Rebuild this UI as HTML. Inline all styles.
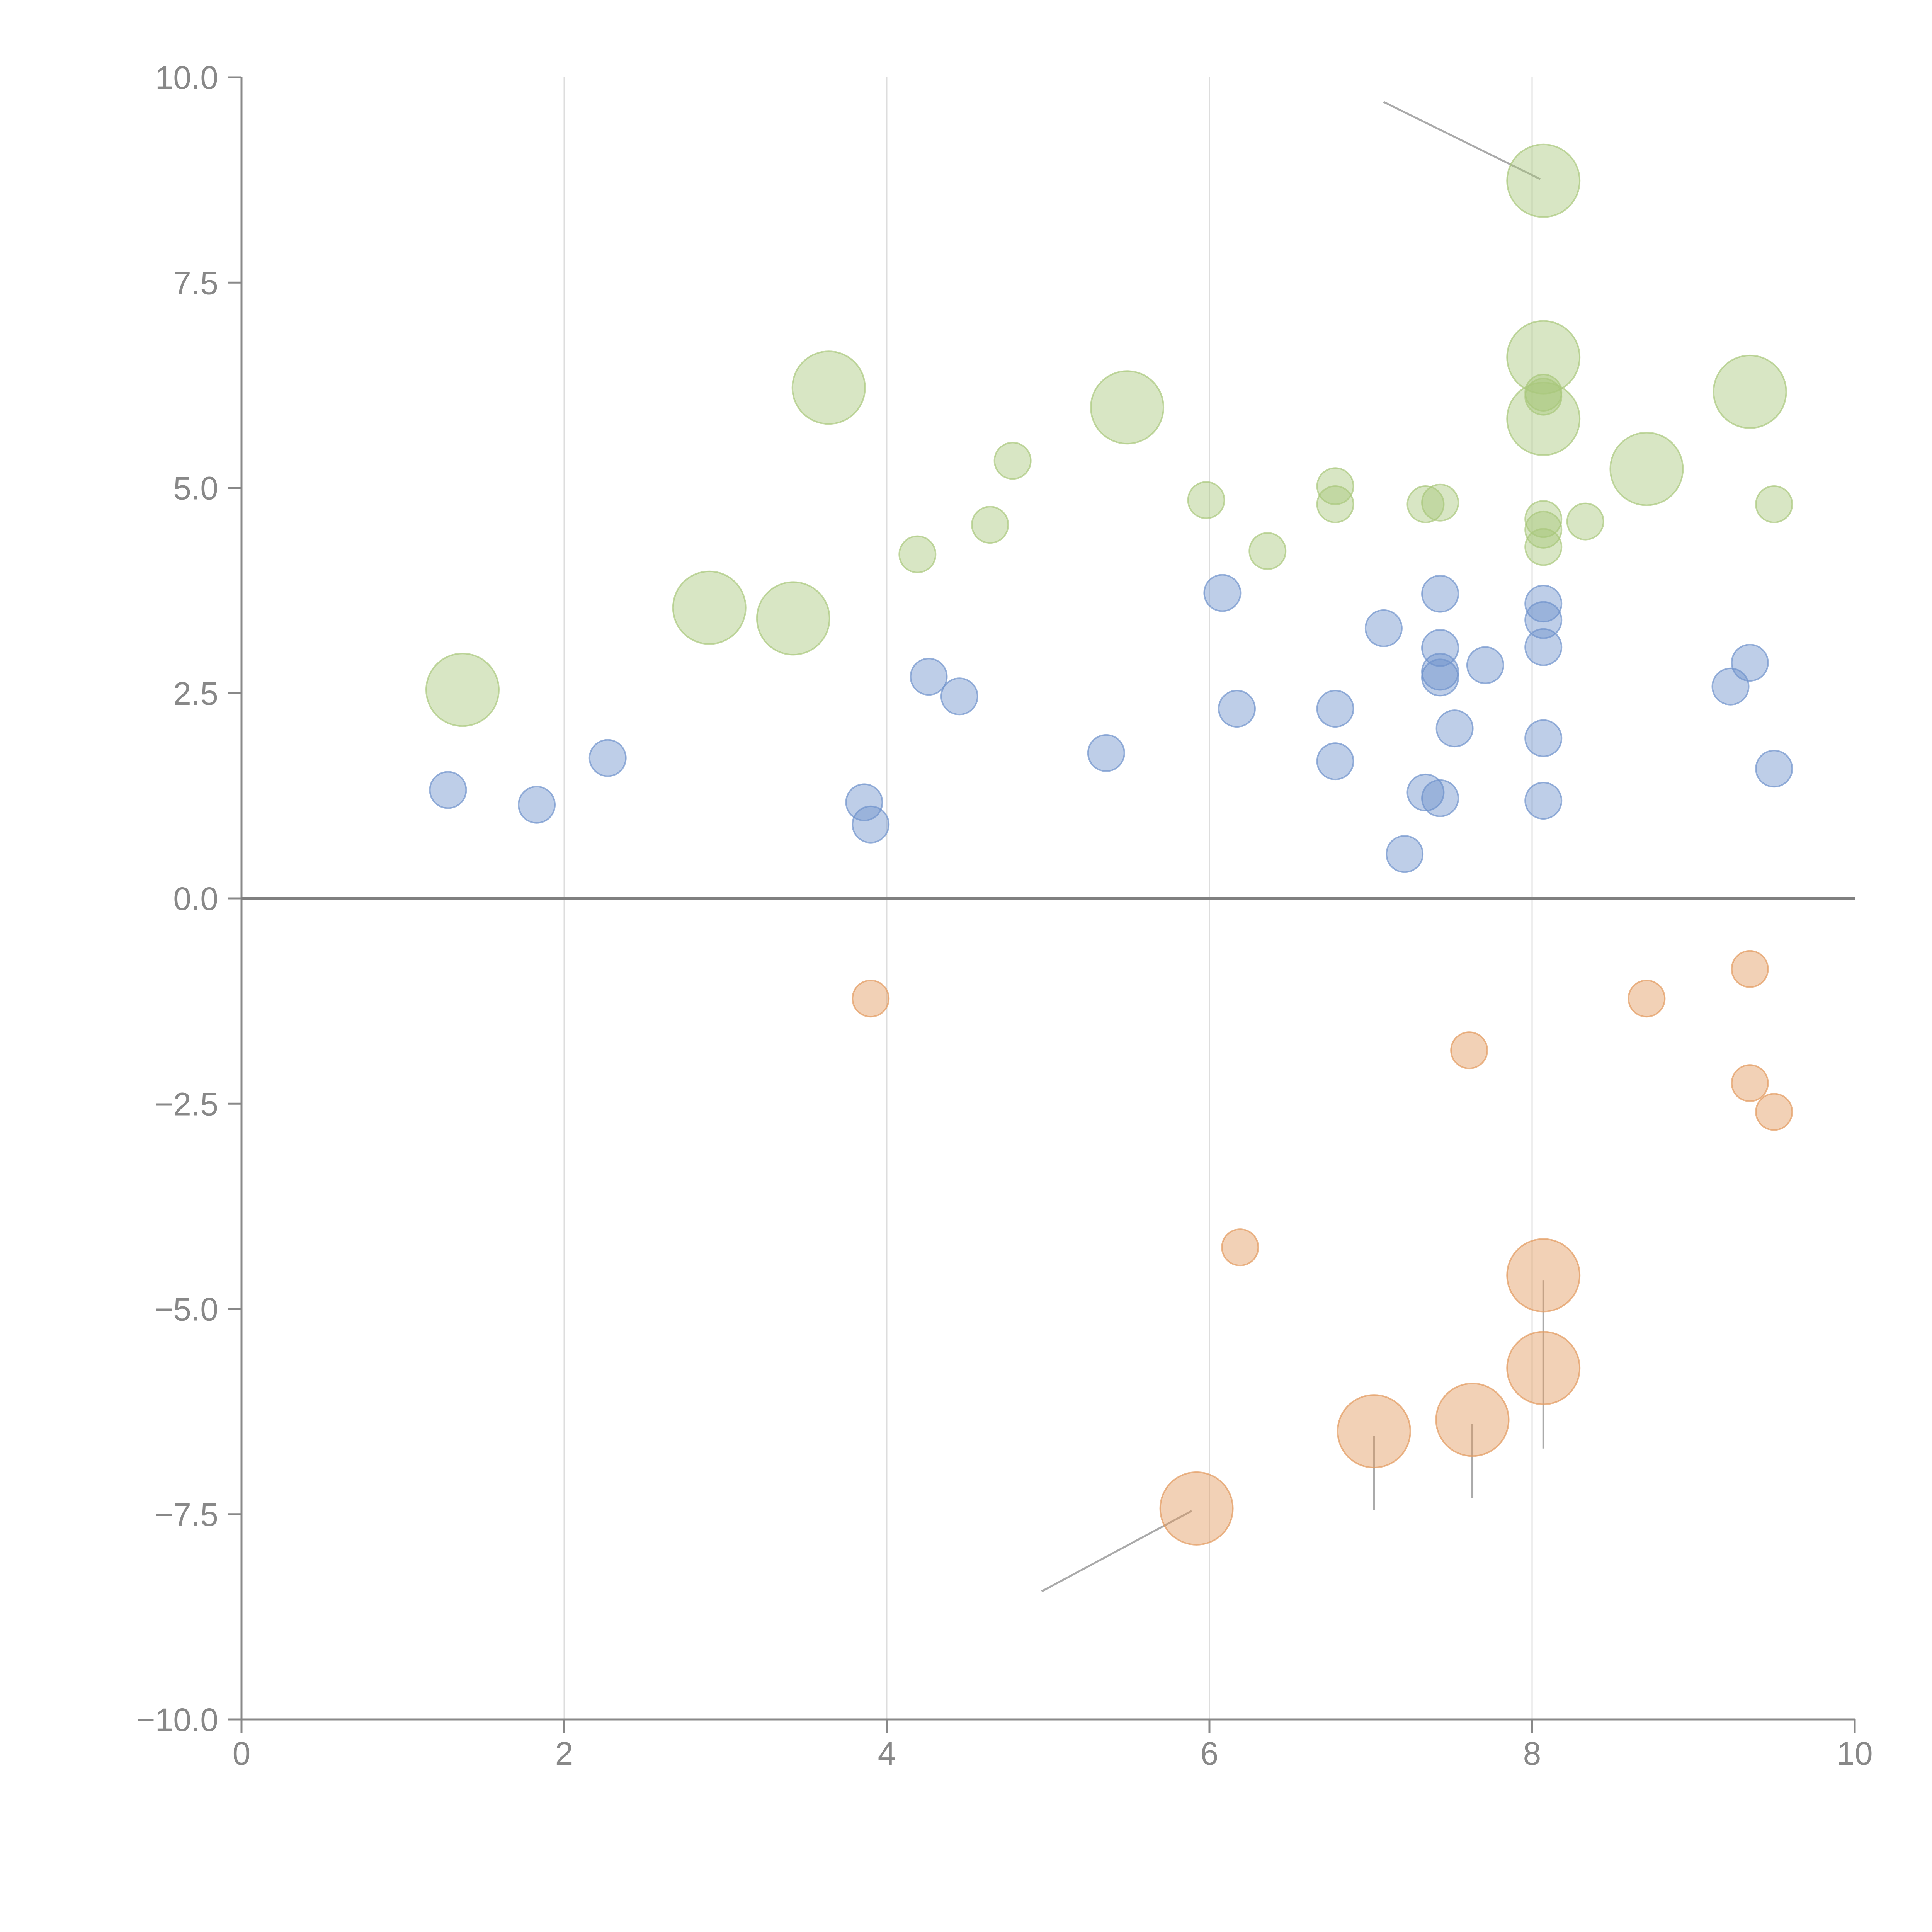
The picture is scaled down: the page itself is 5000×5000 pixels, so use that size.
<!DOCTYPE html>
<html><head><meta charset="utf-8"><style>html,body{margin:0;padding:0;background:#fff}svg{display:block}</style></head>
<body>
<svg id="chart" width="5000" height="5000" viewBox="0 0 5000 5000" xmlns="http://www.w3.org/2000/svg" font-family="Liberation Sans, sans-serif">
<rect width="5000" height="5000" fill="#fff"/>
<g id="grid"></g><g id="axes"></g><g id="leaders"></g><g id="marks"></g>
</svg>
<script>
const xTicks=[0,2,4,6,8,10];
const yTicks=[10,7.5,5,2.5,0,-2.5,-5,-7.5,-10];
const yTickLabels=["10.0","7.5","5.0","2.5","0.0","\u22122.5","\u22125.0","\u22127.5","\u221210.0"];
const blueX=[1.28,1.83,2.27,3.86,3.90,4.26,4.45,5.36,6.08,6.17,6.78,6.78,7.08,7.21,7.34,7.43,7.43,7.43,7.43,7.43,7.52,7.71,8.07,8.07,8.07,8.07,8.07,9.23,9.35,9.50];
const blueY=[1.32,1.14,1.71,1.17,0.90,2.70,2.46,1.77,3.72,2.31,2.31,1.67,3.29,0.54,1.29,3.71,3.05,2.76,2.69,1.22,2.07,2.84,3.59,3.39,3.06,1.95,1.19,2.58,2.87,1.58];
const greenX=[4.19,4.64,4.78,5.98,6.36,6.78,6.78,7.34,7.43,8.07,8.07,8.07,8.07,8.07,8.33,9.50,1.37,2.90,3.42,3.64,5.49,8.07,8.07,8.07,8.71,9.35];
const greenY=[4.19,4.55,5.33,4.85,4.23,5.02,4.80,4.80,4.82,6.16,6.11,4.62,4.49,4.28,4.59,4.80,2.54,3.54,3.41,6.22,5.98,8.74,6.59,5.84,5.23,6.17];
const greenS=[1,1,1,1,1,1,1,1,1,1,1,1,1,1,1,1,4,4,4,4,4,4,4,4,4,4];
const orangeX=[3.90,7.61,8.71,9.35,9.35,9.50,6.19,8.07,8.07,7.63,7.02,5.92];
const orangeY=[-1.22,-1.85,-1.22,-0.86,-2.25,-2.60,-4.25,-4.59,-5.72,-6.35,-6.49,-7.43];
const orangeS=[1,1,1,1,1,1,1,4,4,4,4,4];

const NS="http://www.w3.org/2000/svg";
const X=v=>625+v*417.5, Y=v=>2325-v*212.5;
function mk(p,tag,attrs){const e=document.createElementNS(NS,tag);for(const k in attrs)e.setAttribute(k,attrs[k]);document.getElementById(p).appendChild(e);return e;}
[2,4,6,8].forEach(v=>{const l=mk('grid','line',{x1:X(v),x2:X(v),y1:Y(10),y2:Y(-10),stroke:'#ddd','stroke-width':3});

});
let a=mk('axes','line',{x1:X(0),x2:X(0),y1:Y(10),y2:Y(-10),stroke:'#888','stroke-width':5});


a=mk('axes','line',{x1:X(0),x2:X(10),y1:Y(-10),y2:Y(-10),stroke:'#888','stroke-width':5});


a=mk('axes','line',{x1:X(0),x2:X(10),y1:Y(0),y2:Y(0),stroke:'#808080','stroke-width':7});


yTicks.forEach((v,i)=>{mk('axes','line',{x1:590,x2:X(0),y1:Y(v),y2:Y(v),stroke:'#888','stroke-width':5});
const t=mk('axes','text',{x:565,y:Y(v)+30,'text-anchor':'end','font-size':84,fill:'#888'});t.textContent=yTickLabels[i];

});
xTicks.forEach(v=>{mk('axes','line',{x1:X(v),x2:X(v),y1:Y(-10),y2:Y(-10)+35,stroke:'#888','stroke-width':5});
const t=mk('axes','text',{x:X(v),y:4567,'text-anchor':'middle','font-size':84,fill:'#888'});t.textContent=v;

});
// leader lines
[[7.08,9.7,8.05,8.76],[4.96,-8.44,5.89,-7.46],[7.02,-6.55,7.02,-7.45],[7.63,-6.4,7.63,-7.3],[8.07,-4.65,8.07,-6.7]].forEach(s=>{
const l=mk('leaders','line',{x1:X(s[0]),y1:Y(s[1]),x2:X(s[2]),y2:Y(s[3]),stroke:'#aaa','stroke-width':5});

});
function series(xs,ys,ss,col,name){xs.forEach((x,i)=>{const s=ss?ss[i]:1;
const c=mk('marks','circle',{cx:X(x),cy:Y(ys[i]),r:47*Math.sqrt(s),fill:col,'fill-opacity':0.45,stroke:col,'stroke-opacity':0.7,'stroke-width':4});

});}
series(blueX,blueY,null,'#6f93cc','bubble-blue');
series(greenX,greenY,greenS,'#a9c77c','bubble-green');
series(orangeX,orangeY,orangeS,'#e39a5e','bubble-orange');
</script>
</body></html>
